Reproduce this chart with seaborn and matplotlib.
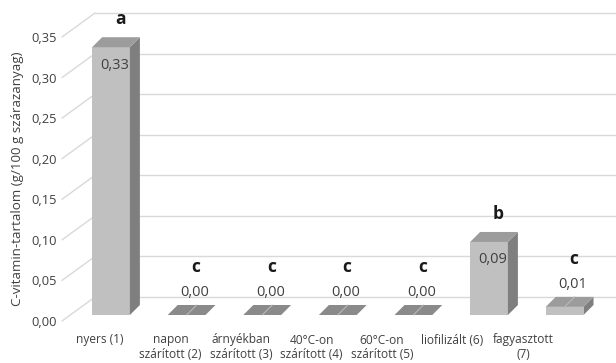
import matplotlib
matplotlib.use("Agg")
import matplotlib.pyplot as plt
import matplotlib.transforms as mtransforms
from matplotlib.patches import Polygon
import seaborn as sns

categories = ["nyers (1)", "napon\nszárított (2)", "árnyékban\nszárított (3)",
              "40°C-on\nszárított (4)", "60°C-on\nszárított (5)",
              "liofilizált (6)", "fagyasztott\n(7)"]
values = [0.33, 0.00, 0.00, 0.00, 0.00, 0.09, 0.01]
letters = ["a", "c", "c", "c", "c", "b", "c"]
yticks = [0.00, 0.05, 0.10, 0.15, 0.20, 0.25, 0.30, 0.35]
ylabel = "C-vitamin-tartalom (g/100 g szárazanyag)"

sns.set_theme(style="white")
plt.rcParams["font.family"] = ["Open Sans", "DejaVu Sans"]

W, H, DPI = 616, 363, 100
PT = 72 / DPI  # points per pixel
fig = plt.figure(figsize=(W / DPI, H / DPI), dpi=DPI)

# front plane of the pseudo-3D chart (pixel geometry)
left_px, right_px, floor_px, top_px = 62, 616, 321, 37
rect = [left_px / W, (H - floor_px) / H, (right_px - left_px) / W, (floor_px - top_px) / H]
ax = fig.add_axes(rect)
lab_ax = fig.add_axes(rect, frameon=False)

bar_step, lab_step = 75.6, 70.5       # px between bars / between labels
bar0_px, lab0_px = 103, 100
xl = -(bar0_px - left_px) / bar_step
xr = xl + (right_px - left_px) / bar_step
ymax = 0.35
px_y = (floor_px - top_px) / ymax


def off(dx, dy):
    # shift right by dx px and up by dy px
    return ax.transData + mtransforms.ScaledTranslation(dx / DPI, dy / DPI, fig.dpi_scale_trans)


sns.barplot(x=list(range(len(values))), y=values, color="#c0c0c0", width=0.5,
            saturation=1, ax=ax, zorder=3)
ax.set_xlim(xl, xr)
ax.set_ylim(0, ymax)

# back wall gridlines + left wall diagonals
wall_dx, wall_dy = 33, 24
dxu, dyu = wall_dx / bar_step, wall_dy / px_y
for v in yticks:
    ax.plot([xl + dxu, xr + 1], [v + dyu, v + dyu], color="#d9d9d9", lw=1.0,
            clip_on=False, zorder=1)
    ax.plot([xl, xl + dxu], [v, v + dyu], color="#d9d9d9", lw=1.0,
            clip_on=False, zorder=1)

# 3D faces for each bar
bar_off = off(8, 6)
ddx, ddy = 10 / bar_step, 10 / px_y
for i, (p, v) in enumerate(zip(ax.patches, values)):
    p.set_transform(bar_off)
    p.set_edgecolor("none")
    x0, x1 = p.get_x(), p.get_x() + p.get_width()
    side = Polygon([(x1, 0), (x1 + ddx, ddy), (x1 + ddx, v + ddy), (x1, v)],
                   closed=True, facecolor="#7f7f7f", edgecolor="none",
                   transform=bar_off, zorder=3)
    topc = "#8a8a8a" if v < 0.005 else "#9c9c9c"
    top = Polygon([(x0, v), (x0 + ddx, v + ddy), (x1 + ddx, v + ddy), (x1, v)],
                  closed=True, facecolor=topc, edgecolor="none",
                  transform=bar_off, zorder=4)
    ax.add_patch(side)
    ax.add_patch(top)
    if v < 0.02:
        xm = (x0 + x1) / 2
        ax.plot([xm, xm + ddx], [v, v + ddy], color="#b8b8b8", lw=0.8,
                transform=bar_off, zorder=5)

    xc = (x0 + x1) / 2
    txt = f"{v:.2f}".replace(".", ",")
    if v >= 0.05:
        val_xy, let_dy = (4 * PT, -18 * PT), 28
    else:
        val_xy, let_dy = (8 * PT, 22 * PT), 48
    ax.annotate(txt, (xc, v), xytext=val_xy, textcoords="offset points",
                xycoords=bar_off, ha="center", va="center", fontsize=10.5,
                color="#404040", zorder=6)
    ax.annotate(letters[i], (xc, v), xytext=(9 * PT, let_dy * PT),
                textcoords="offset points", xycoords=bar_off,
                ha="center", va="center", fontsize=12.5, fontweight="bold",
                color="#1a1a1a", zorder=6)

ax.set_xticks([])
ax.set_yticks(yticks)
ax.set_yticklabels([f"{t:.2f}".replace(".", ",") for t in yticks], fontsize=9.3,
                   color="#404040")
ax.tick_params(axis="y", length=0, pad=4)
ax.set_ylabel(ylabel, fontsize=9.6, color="#404040", labelpad=5)
sns.despine(ax=ax, left=True, bottom=True)
ax.set_facecolor("none")

# category labels
lx0 = -(lab0_px - left_px) / lab_step
lab_ax.set_xlim(lx0, lx0 + (right_px - left_px) / lab_step)
lab_ax.set_ylim(0, 1)
lab_ax.set_xticks(range(len(categories)))
lab_ax.set_xticklabels(categories, fontsize=8.6, color="#404040", linespacing=1.2)
lab_ax.tick_params(axis="x", length=0, pad=9)
lab_ax.set_yticks([])
lab_ax.patch.set_visible(False)

fig.savefig("out.png", dpi=DPI, facecolor="white")
